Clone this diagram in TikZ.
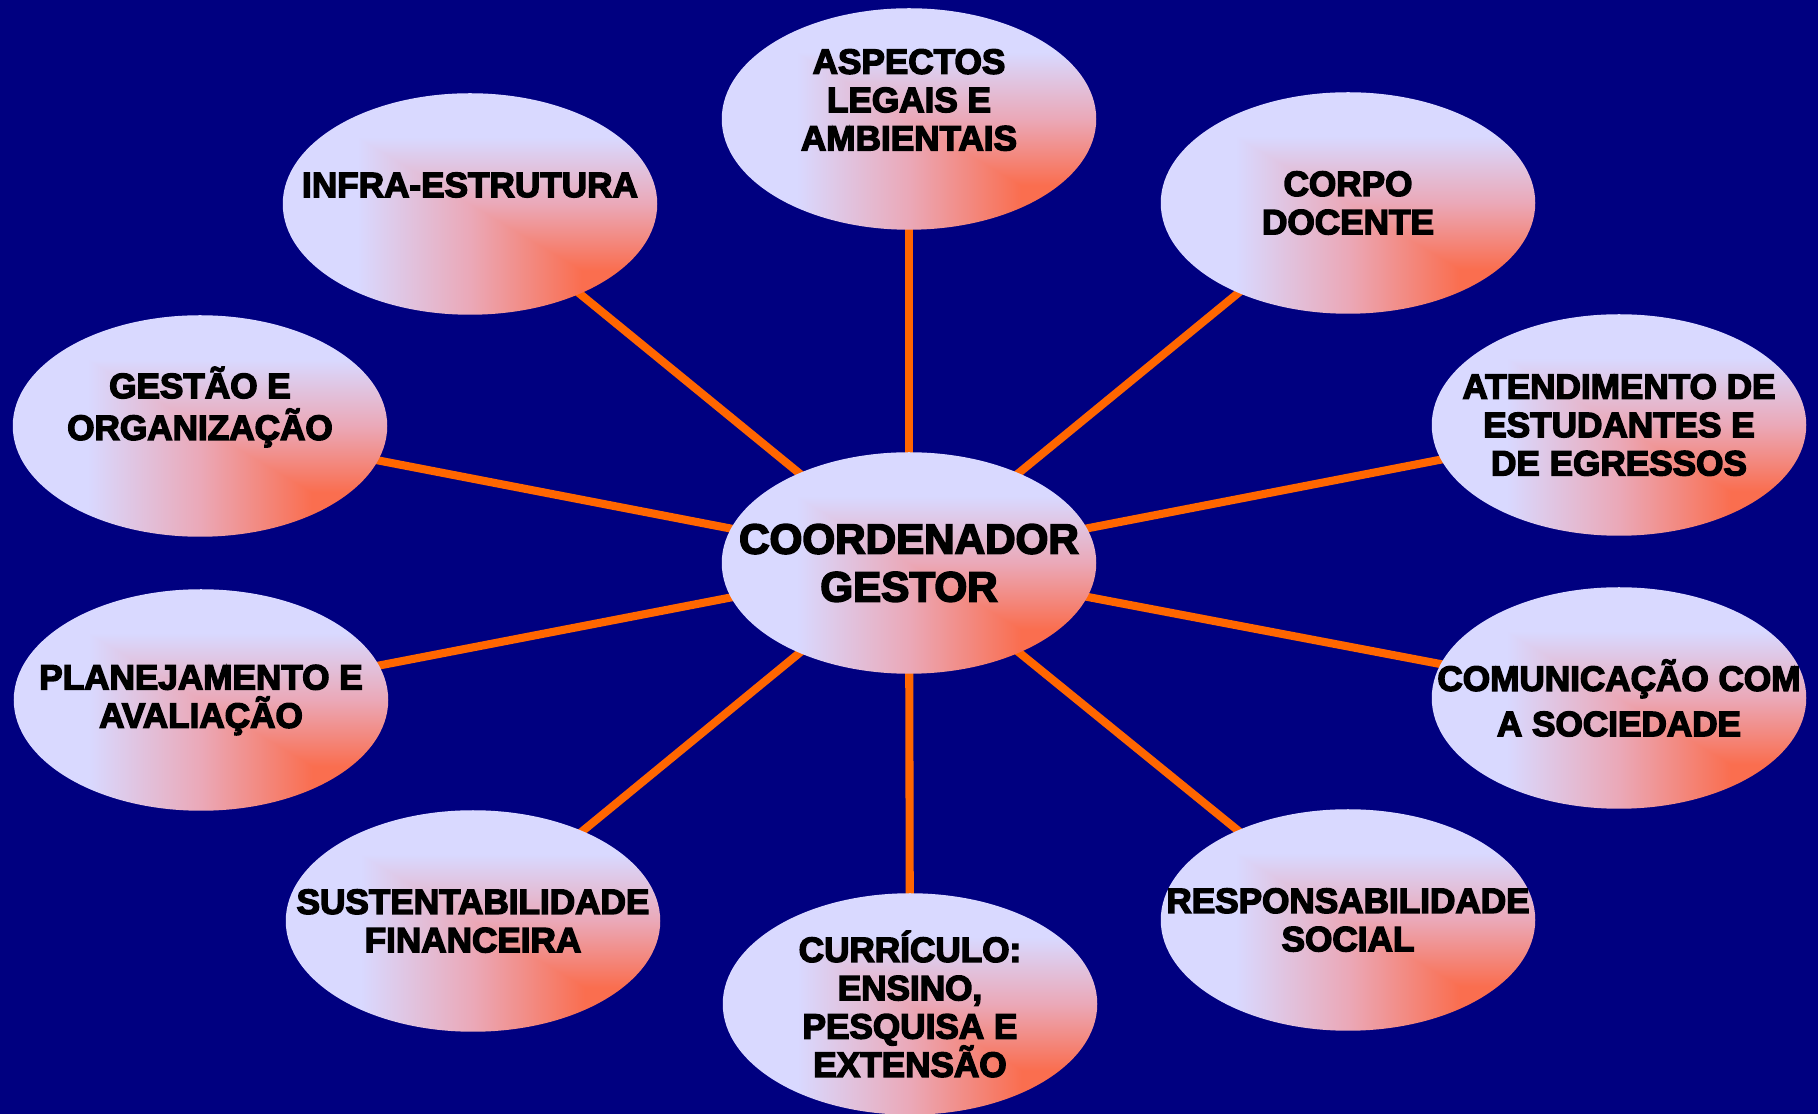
\documentclass[tikz,border=0pt]{standalone}
\usepackage{fontspec}
\setmainfont{Liberation Sans}[BoldFeatures={FakeBold=4}]
\usetikzlibrary{shapes.geometric}
\pgfdeclarelayer{fundo}
\pgfdeclarelayer{linhas}
\pgfsetlayers{fundo,linhas,main}
% degrade das elipses (a partir do canto inferior direito)
\pgfdeclarefunctionalshading{degrade}{\pgfpoint{-50bp}{-50bp}}{\pgfpoint{50bp}{50bp}}{}{
  15 add 30 div exch 15 exch sub 30 div
  2 copy lt {exch} if pop
  dup 0 lt {pop 0} if dup 1 gt {pop 1} if
  dup 0.5 lt
  {2 mul dup dup 0.41 mul 0.31 add 3 1 roll 0.23 mul 0.43 add exch -0.06 mul 0.98 add 3 1 roll exch}
  {2 mul 1 sub dup dup 0.28 mul 0.72 add 3 1 roll 0.19 mul 0.66 add exch -0.07 mul 0.92 add 3 1 roll exch}
  ifelse
}
\tikzset{
  bolha/.style={ellipse, minimum width=3.745cm, minimum height=2.215cm,
    inner sep=0pt, shading=degrade},
  rotulo/.style={align=center, text=black, inner sep=0pt,
    font=\fontsize{10}{10.9}\selectfont\bfseries},
  texto/.style={label={[rotulo]center:{#1}}},
  textoalto/.style={label={[rotulo,yshift=1.9mm]center:{#1}}},
  linha/.style={draw=laranja, line width=2.3pt}
}
\begin{document}
\begin{tikzpicture}
        %cores
        \colorlet{azul}{blue!50!black}
        \definecolor{laranja}{RGB}{255,102,0}
        \useasboundingbox (0,0) rectangle (18.18,11.14);
        % Fundo
        \begin{pgfonlayer}{fundo}
            \fill[azul] (0,0) rectangle (18.18,11.14);
        \end{pgfonlayer}

        % Centro
        \node[bolha, label={[rotulo,font=\fontsize{12}{13.6}\selectfont\bfseries]center:{COORDENADOR\\GESTOR}}] (coord) at (9.09,5.51) {};

        % Elipses em volta
        \node[bolha, textoalto={ASPECTOS\\LEGAIS E\\AMBIENTAIS}] (aspectos) at (9.09,9.95) {};
        \node[bolha, textoalto={INFRA-ESTRUTURA}] (infra) at (4.70,9.10) {};
        \node[bolha, texto={CORPO\\DOCENTE}] (corpo) at (13.48,9.11) {};
        \node[bolha, textoalto={GEST\~AO E\\[0.35mm]ORGANIZA\c{C}\~AO}] (gestao) at (2.00,6.88) {};
        \node[bolha, texto={ATENDIMENTO DE\\ESTUDANTES E\\DE EGRESSOS}] (atend) at (16.19,6.89) {};
        \node[bolha, texto={PLANEJAMENTO E\\AVALIA\c{C}\~AO}] (plan) at (2.01,4.14) {};
        \node[bolha, texto={COMUNICA\c{C}\~AO COM\\[0.7mm]A SOCIEDADE}] (comun) at (16.19,4.16) {};
        \node[bolha, texto={SUSTENTABILIDADE\\FINANCEIRA}] (sust) at (4.73,1.93) {};
        \node[bolha, texto={RESPONSABILIDADE\\SOCIAL}] (resp) at (13.48,1.94) {};
        \node[bolha, texto={CURR\'ICULO:\\ENSINO,\\PESQUISA E\\EXTENS\~AO}] (curr) at (9.10,1.10) {};

        % Ligacoes
        \begin{pgfonlayer}{linhas}
            \foreach \n in {aspectos,infra,corpo,gestao,atend,plan,comun,sust,resp,curr}
            \draw[linha] (coord.center) -- (\n.center);
        \end{pgfonlayer}
    \end{tikzpicture}
\end{document}
